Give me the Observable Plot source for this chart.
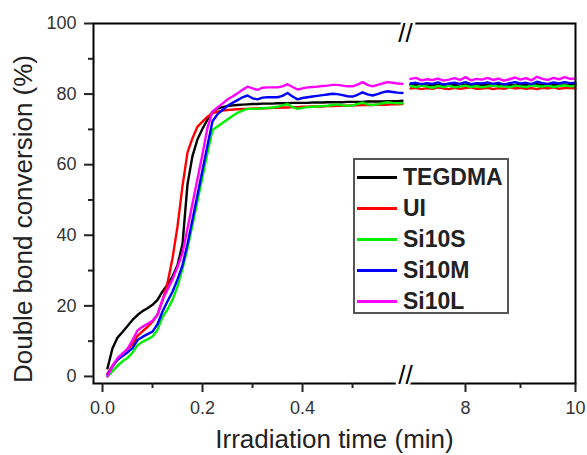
<!DOCTYPE html>
<html><head><meta charset="utf-8">
<script src="https://cdn.jsdelivr.net/npm/d3@7"></script>
<script src="https://cdn.jsdelivr.net/npm/@observablehq/plot@0.6"></script>
<style>
body{margin:0;background:#fff;font-family:"Liberation Sans",Arial,sans-serif;}
#wrap{position:relative;width:587px;height:455px;}
#wrap svg g[aria-label$="tick label"]{font-size:18px;}
#legend{position:absolute;left:353px;top:158px;width:156px;height:156px;box-sizing:border-box;border:2px solid #555;background:#fff;padding-top:2px;}
.row{display:flex;align-items:center;height:31px;}
.sw{width:40px;height:3px;margin-left:2px;margin-right:6px;flex:none;}
.lab{font-weight:bold;font-size:23px;color:#222;line-height:1;}
#ytitle{position:absolute;left:23px;top:219px;transform:translate(-50%,-50%) rotate(-90deg);white-space:nowrap;font-size:26px;color:#222;line-height:1;}
</style></head><body><div id="wrap"></div>
<script>
const series = ["TEGDMA","UI","Si10S","Si10M","Si10L"];
const colors = ["#000000","#ff0000","#00ee00","#0000ff","#ff00ff"];

const tLeft = [0.01,0.02,0.03,0.04,0.05,0.06,0.07,0.08,0.09,0.10,
               0.11,0.12,0.13,0.14,0.15,0.16,0.17,0.18,0.19,0.20,
               0.21,0.22,0.23,0.24,0.25,0.26,0.27,0.28,0.29,0.30,
               0.31,0.32,0.33,0.34,0.35,0.36,0.37,0.38,0.39,0.40,
               0.41,0.42,0.43,0.44,0.45,0.46,0.47,0.48,0.49,0.50,
               0.51,0.52,0.53,0.54,0.55,0.56,0.57,0.58,0.59,0.60];
const tRight = [7.0,7.1,7.2,7.3,7.4,7.5,7.6,7.7,7.8,7.9,
                8.0,8.1,8.2,8.3,8.4,8.5,8.6,8.7,8.8,8.9,
                9.0,9.1,9.2,9.3,9.4,9.5,9.6,9.7,9.8,9.9,10.0];

const tegdmaLeft = [2.3,8.0,11.0,12.6,14.3,16.0,17.4,18.5,19.3,20.3,
  21.7,24.1,26.0,28.3,31.5,37.5,54.5,62.5,67.2,70.2,
  72.8,75.0,75.9,76.3,76.6,76.8,76.9,77.0,77.1,77.2,
  77.2,77.3,77.3,77.3,77.4,77.4,77.4,77.5,77.5,77.5,
  77.5,77.6,77.6,77.6,77.7,77.7,77.7,77.7,77.8,77.8,
  77.8,77.8,77.9,77.9,77.9,77.9,78.0,78.0,78.0,78.1];
const uiLeft = [0.8,3.0,4.8,6.3,7.8,9.0,11.5,12.8,14.0,15.5,
  17.5,21.5,26.5,33.5,42.5,54.0,63.5,67.5,70.8,72.2,
  73.6,74.6,75.0,75.3,75.5,75.6,75.7,75.8,75.8,75.9,
  75.9,76.0,76.0,76.1,76.1,76.2,76.2,76.3,76.3,76.4,
  76.4,76.5,76.5,76.5,76.6,76.6,76.7,76.7,76.7,76.8,
  76.8,76.9,76.9,76.9,77.0,77.0,77.0,77.1,77.1,77.2];
const si10sLeft = [0.0,1.5,3.0,4.3,5.2,6.8,8.8,9.8,10.5,11.3,
  13.2,16.8,19.0,21.7,25.5,30.5,36.3,43.0,49.8,56.6,
  63.4,69.8,70.8,71.8,72.8,73.8,74.7,75.3,75.8,75.8,
  75.8,76.0,76.1,76.2,76.4,76.8,77.2,76.3,75.8,76.1,
  76.3,76.4,76.5,76.6,76.7,76.9,77.1,76.8,76.7,76.8,
  77.2,77.6,77.1,76.9,77.1,77.4,77.7,77.5,77.4,77.4];
const si10mLeft = [0.5,2.8,4.7,5.8,6.8,8.0,10.3,11.2,12.0,12.7,
  14.8,18.4,21.3,24.0,27.5,31.5,37.5,44.5,51.5,58.5,
  65.5,72.3,74.3,75.5,76.7,77.5,78.3,79.1,79.6,78.8,
  78.5,79.0,79.1,79.1,79.1,79.5,80.3,79.3,78.5,78.9,
  79.1,79.3,79.5,79.7,79.9,80.1,80.0,79.7,79.4,79.3,
  79.8,80.5,79.9,79.6,80.0,80.5,80.8,80.6,80.4,80.3];
const si10lLeft = [0.0,3.0,5.2,6.5,7.8,10.3,13.0,14.1,14.9,15.8,
  17.5,21.8,24.6,27.5,31.0,35.0,42.0,49.0,56.0,63.0,
  70.5,75.0,76.2,77.3,78.5,79.3,80.2,81.2,82.1,81.6,
  81.2,81.8,81.9,81.9,81.9,82.2,82.8,82.0,81.3,81.6,
  81.9,82.0,82.1,82.3,82.4,82.6,82.6,82.4,82.2,82.2,
  82.7,83.4,82.6,82.2,82.6,83.0,83.4,83.2,83.0,82.9];

const tegdmaRight = [82.6,82.5,82.7,82.4,82.6,82.5,82.7,82.5,82.6,82.4,82.7,82.6,82.5,82.7,82.6,82.4,82.6,82.7,82.5,82.6,82.7,82.5,82.6,82.8,82.5,82.6,82.7,82.6,82.7,82.5,82.6];
const uiRight = [81.6,81.8,81.4,81.7,81.5,81.9,81.6,81.4,81.8,81.5,81.7,81.9,81.5,81.6,81.8,81.4,81.7,81.5,81.9,81.6,81.8,81.5,81.7,81.4,81.8,81.6,81.9,81.5,81.7,81.8,81.6];
const si10sRight = [82.3,82.0,82.4,82.1,81.8,82.3,82.0,82.4,81.9,82.2,82.4,82.0,82.3,81.9,82.2,82.5,82.1,82.3,81.9,82.4,82.2,82.0,82.5,82.3,82.1,82.4,82.0,82.3,82.5,82.2,82.3];
const si10mRight = [83.0,83.2,82.8,83.1,82.9,83.3,82.7,83.0,83.2,82.9,83.4,82.8,83.1,83.0,83.3,82.9,83.2,82.7,83.1,83.4,83.0,83.2,82.8,83.5,83.1,82.9,83.3,83.0,83.4,83.1,83.2];
const si10lRight = [84.3,84.6,83.9,84.2,84.0,84.4,83.8,84.1,84.5,84.0,84.8,83.9,84.3,84.1,84.6,84.0,84.4,83.8,84.2,84.7,84.1,84.5,83.9,84.9,84.3,84.0,84.6,84.2,84.8,84.3,84.4];

const yMajor = [0,20,40,60,80,100];
const yMinor = [10,30,50,70,90];
const xMajor = [0,0.2,0.4,8,10];
const xMajorLabels = ["0.0","0.2","0.4","8","10"];
const xMinor = [0.1,0.3,0.5,9];
const leftEnd = 0.606, rightStart = 6.91, xMin = -0.018, xMax = 10;
const rightScale = 0.11; // right segment drawn at 0.11x the left segment's rate
const xTitle = "Irradiation time (min)";
const yTitle = "Double bond conversion (%)";

// broken-axis mapping (time -> position along the axis)
const breakX = t => t <= leftEnd ? t : leftEnd + (t - rightStart) * rightScale;

const leftVals = [tegdmaLeft, uiLeft, si10sLeft, si10mLeft, si10lLeft];
const rightVals = [tegdmaRight, uiRight, si10sRight, si10mRight, si10lRight];
const rows = [];
series.forEach((name, i) => {
  tLeft.forEach((t, j) => rows.push({name, seg: "L", t, v: leftVals[i][j]}));
  tRight.forEach((t, j) => rows.push({name, seg: "R", t, v: rightVals[i][j]}));
});
const majorTicks = xMajor.map((t, i) => ({p: breakX(t), label: xMajorLabels[i]}));
const labelAt = new Map(majorTicks.map(d => [d.p, d.label]));

const chart = Plot.plot({
  width: 587, height: 455,
  marginTop: 23, marginBottom: 72, marginLeft: 93, marginRight: 12,
  style: {fontFamily: '"Liberation Sans", Arial, sans-serif', fontSize: "18px", color: "#222", background: "#fff", overflow: "visible"},
  x: {domain: [xMin, breakX(xMax)]},
  y: {domain: [-2, 100]},
  color: {domain: series, range: colors},
  marks: [
    Plot.line(rows, {x: d => breakX(d.t), y: "v", z: d => d.name + "|" + d.seg, stroke: "name", strokeWidth: 2.4}),
    Plot.frame({stroke: "#000", strokeWidth: 2}),
    Plot.axisY({ticks: yMajor, tickSize: 9, tickPadding: 8, strokeWidth: 2, fontSize: 18, fill: "#333", label: null}),
    Plot.axisY({ticks: yMinor, tickSize: 5, strokeWidth: 2, text: null, label: null}),
    Plot.axisX({ticks: majorTicks.map(d => d.p), tickSize: 9, tickPadding: 9, strokeWidth: 2, fontSize: 18, fill: "#333", label: null,
      tickFormat: p => labelAt.get(p)}),
    Plot.axisX({ticks: xMinor.map(breakX), tickSize: 5, strokeWidth: 2, text: null, label: null}),
    Plot.text([leftEnd], {x: d => d, text: () => "//", frameAnchor: "top", fontSize: 26, fill: "#000", stroke: "#fff", strokeWidth: 5}),
    Plot.text([leftEnd], {x: d => d, text: () => "//", frameAnchor: "bottom", fontSize: 26, fill: "#000", stroke: "#fff", strokeWidth: 5}),
    Plot.text([xTitle], {text: d => d, frameAnchor: "bottom", dy: 64, fontSize: 26, fill: "#222"})
  ]
});
const wrap = document.getElementById("wrap");
wrap.appendChild(chart);

const yt = document.createElement("div");
yt.id = "ytitle";
yt.textContent = yTitle;
wrap.appendChild(yt);

const legend = document.createElement("div");
legend.id = "legend";
series.forEach((name, i) => {
  const row = document.createElement("div");
  row.className = "row";
  const sw = document.createElement("div");
  sw.className = "sw";
  sw.style.background = colors[i];
  const lab = document.createElement("span");
  lab.className = "lab";
  lab.textContent = name;
  row.appendChild(sw); row.appendChild(lab);
  legend.appendChild(row);
});
wrap.appendChild(legend);
</script></body></html>
